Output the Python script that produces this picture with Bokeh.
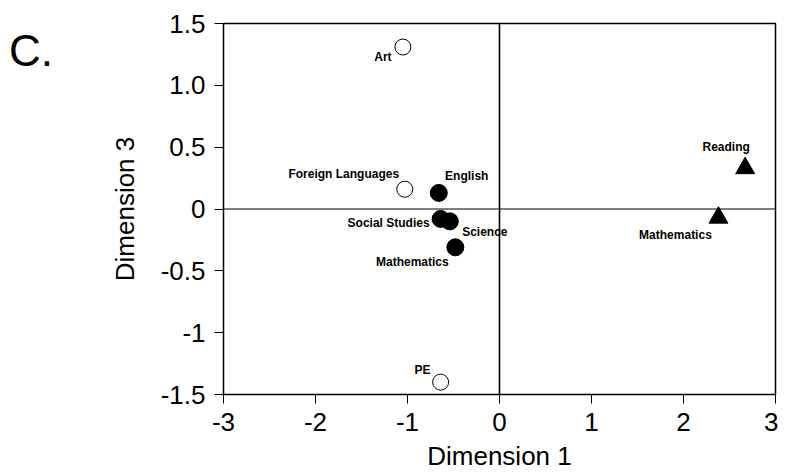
from bokeh.plotting import figure
from bokeh.models import ColumnDataSource, FixedTicker, Span, Div
from bokeh.layouts import row
from bokeh.core.properties import value
from bokeh.embed import file_html
from bokeh.resources import INLINE

# ---- data ----
open_names = ["Art", "Foreign Languages", "PE"]
open_x = [-1.05, -1.03, -0.64]
open_y = [1.31, 0.16, -1.40]

filled_names = ["English", "Social Studies", "Science", "Mathematics"]
filled_x = [-0.66, -0.64, -0.54, -0.48]
filled_y = [0.13, -0.08, -0.10, -0.31]

tri_names = ["Reading", "Mathematics"]
tri_x = [2.67, 2.38]
tri_y = [0.33, -0.07]

x_ticks = [-3, -2, -1, 0, 1, 2, 3]
x_tick_labels = ["-3", "-2", "-1", "0", "1", "2", "3"]
y_ticks = [-1.5, -1, -0.5, 0, 0.5, 1, 1.5]
y_tick_labels = ["-1.5", "-1", "-0.5", "0", "0.5", "1.0", "1.5"]

panel_letter = "C."

# label offsets in screen pixels (layout only)
open_dx = [-20, -61, -18]
open_dy = [10, -15, -12]
filled_dx = [28, -52, 35, -43]
filled_dy = [-17, 4, 11, 15]
tri_dx = [-19, -43]
tri_dy = [-21, 17]

FONT = "Liberation Sans"
DIV_W = 100
PAD_L = 4
SHIFT = 7

p = figure(width=779 - DIV_W - SHIFT, height=473, x_range=(-3, 3), y_range=(-1.5, 1.5),
           output_backend="svg", toolbar_location=None,
           min_border_left=222 - DIV_W - SHIFT, min_border_right=3, min_border_top=23,
           min_border_bottom=79)
p.grid.visible = False
p.outline_line_color = "black"
p.outline_line_width = 1.5

p.add_layout(Span(location=0, dimension="width", line_color="black", line_width=1))
p.add_layout(Span(location=0, dimension="height", line_color="black", line_width=1.6))

src_o = ColumnDataSource(dict(x=open_x, y=open_y, t=open_names, dx=open_dx, dy=open_dy))
src_f = ColumnDataSource(dict(x=filled_x, y=filled_y, t=filled_names, dx=filled_dx, dy=filled_dy))
src_t = ColumnDataSource(dict(x=tri_x, y=tri_y, t=tri_names, dx=tri_dx, dy=tri_dy))

p.scatter("x", "y", source=src_o, marker="circle", size=16, fill_color="white",
          line_color="black", line_width=1)
p.scatter("x", "y", source=src_f, marker="circle", size=17, fill_color="black",
          line_color="black")
p.scatter("x", "y", source=src_t, marker="triangle", size=19, fill_color="black",
          line_color="black")

for s in (src_o, src_f, src_t):
    p.text("x", "y", text="t", source=s, x_offset="dx", y_offset="dy",
           text_align="center", text_baseline="middle",
           text_font=value(FONT), text_font_style="bold", text_font_size="12px",
           text_color="black")

for ax in (p.xaxis[0], p.yaxis[0]):
    ax.axis_line_color = "black"
    ax.axis_line_width = 1
    ax.major_tick_line_color = "black"
    ax.major_tick_line_width = 1
    ax.major_tick_out = 9
    ax.major_tick_in = 0
    ax.minor_tick_line_color = None
    ax.major_label_text_font = FONT
    ax.major_label_text_font_size = "26px"
    ax.major_label_text_color = "black"
    ax.axis_label_text_font = FONT
    ax.axis_label_text_font_size = "26px"
    ax.axis_label_text_font_style = "normal"
    ax.axis_label_text_color = "black"

p.xaxis.ticker = FixedTicker(ticks=x_ticks)
p.xaxis.major_label_overrides = {k: v for k, v in zip(x_ticks, x_tick_labels)}
p.yaxis.ticker = FixedTicker(ticks=y_ticks)
p.yaxis.major_label_overrides = {k: v for k, v in zip(y_ticks, y_tick_labels)}
p.xaxis.axis_label = "Dimension 1"
p.yaxis.axis_label = "Dimension 3"
p.xaxis.major_label_standoff = 9
p.xaxis.axis_label_standoff = 7
p.yaxis.major_label_standoff = 9
p.yaxis.axis_label_standoff = 18

letter = Div(text=panel_letter, width=DIV_W - PAD_L, height=100,
             styles={"font-family": FONT, "font-size": "44px", "line-height": "44px",
                     "color": "black", "padding-top": "24px",
                     "padding-left": f"{PAD_L}px"})

layout = row(letter, p)

open("out.html", "w").write(file_html(layout, INLINE))
